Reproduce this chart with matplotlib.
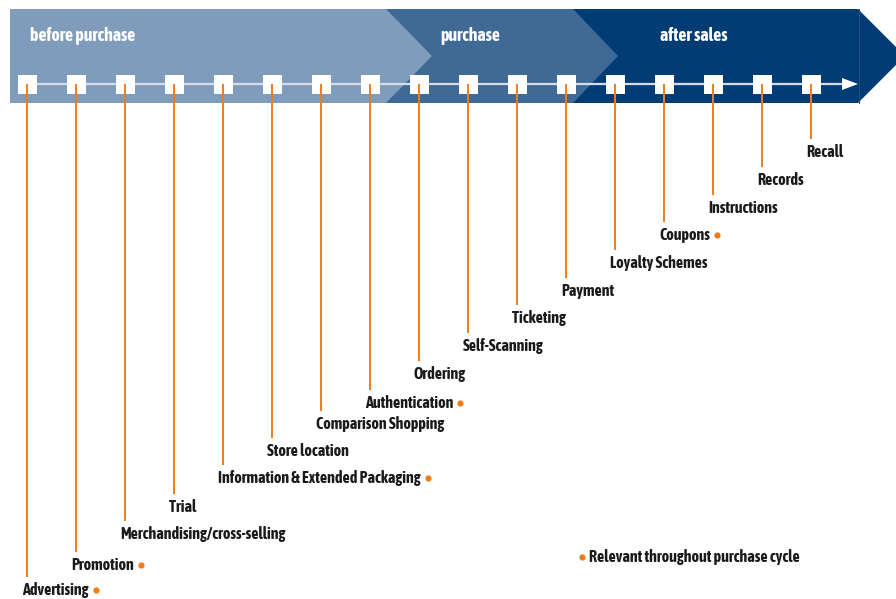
import matplotlib
matplotlib.use("Agg")
import matplotlib.pyplot as plt
from matplotlib.patches import Polygon, Rectangle

plt.rcParams['font.family'] = ['Asap Condensed', 'DejaVu Sans']

stages = ["Advertising", "Promotion", "Merchandising/cross-selling", "Trial",
          "Information & Extended Packaging", "Store location", "Comparison Shopping",
          "Authentication", "Ordering", "Self-Scanning", "Ticketing", "Payment",
          "Loyalty Schemes", "Coupons", "Instructions", "Records", "Recall"]
label_y = [590, 565, 534, 507, 478, 451, 424, 403, 374, 346, 318, 291, 263, 235, 208, 180, 152]
relevant = [1, 1, 0, 0, 1, 0, 0, 1, 0, 0, 0, 0, 0, 1, 0, 0, 0]
phases = ["before purchase", "purchase", "after sales"]
phase_x = [30, 440, 660]
legend_text = "Relevant throughout purchase cycle"

orange = "#f07c1c"
fig = plt.figure(figsize=(8.96, 5.99), dpi=100)
ax = fig.add_axes([0, 0, 1, 1])
ax.set_xlim(0, 896)
ax.set_ylim(599, 0)
ax.axis("off")

top, bot, mid = 9, 103, 56
# phase band (drawn back to front)
ax.add_patch(Polygon([(573, top), (858, top), (905, mid), (858, bot), (573, bot)],
                     closed=True, fc="#023c74", ec="none", zorder=1))
ax.add_patch(Polygon([(386, top), (573, top), (618, mid), (573, bot), (386, bot)],
                     closed=True, fc="#406a96", ec="none", zorder=2))
ax.add_patch(Polygon([(10, top), (386, top), (432, mid), (386, bot), (10, bot)],
                     closed=True, fc="#7f9dba", ec="none", zorder=3))
ax.plot([858.5, 858.5], [top, bot], color="#1d4f80", lw=0.8, zorder=1.5)
for name, x in zip(phases, phase_x):
    ax.text(x, 36, name, color="white", fontsize=12.8, fontweight="bold",
            va="center", ha="left", zorder=6)

# timeline arrow
ax.plot([28, 845], [84, 84], color="#d5dde8", lw=1.6, zorder=4)
ax.add_patch(Polygon([(842, 78), (858, 84), (842, 90)], closed=True,
                     fc="white", ec="none", zorder=4))

xs = [27 + 49 * i for i in range(len(stages))]
for x, name, y, rel in zip(xs, stages, label_y, relevant):
    ax.add_patch(Rectangle((x - 9.5, 74.5), 19, 19, fc="white", ec="none", zorder=5))
    ax.plot([x, x], [84, y - 13], color=orange, lw=1.4, zorder=6, solid_capstyle="butt")
    t = ax.text(x - 5, y, name, fontsize=11.5, fontweight="bold", color="#1a1a1a",
                va="center", ha="left", zorder=6)
    if rel:
        fig.canvas.draw()
        bb = t.get_window_extent()
        ax.plot(bb.x1 + 7, y, "o", color=orange, ms=4.5, mec="none", zorder=6)

ax.plot(582, 557, "o", color=orange, ms=4.5, mec="none")
ax.text(589, 557, legend_text, fontsize=11.5, fontweight="bold", color="#1a1a1a",
        va="center", ha="left")

fig.savefig("out.png", dpi=100)
